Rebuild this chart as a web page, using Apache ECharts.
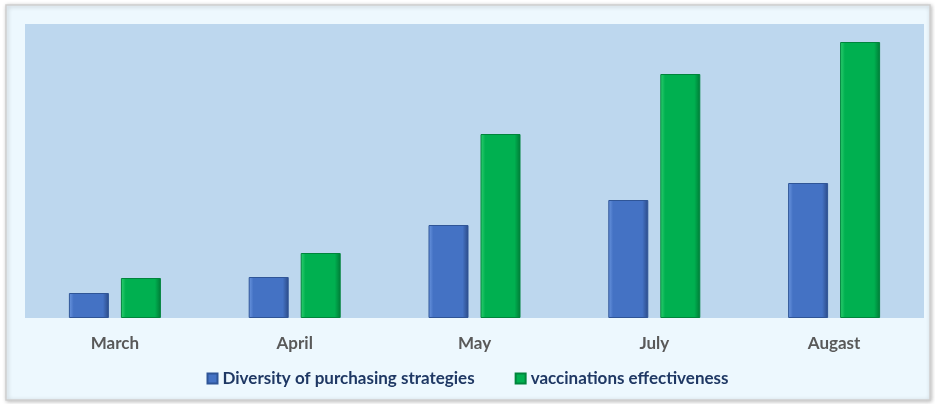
<!DOCTYPE html>
<html><head><meta charset="utf-8">
<script src="https://cdn.jsdelivr.net/npm/echarts@6/dist/echarts.min.js"></script>
<style>html,body{margin:0;padding:0;background:#fff}#c{width:935px;height:404px}</style>
</head><body><div id="c"></div>
<script>
const categories = ['March', 'April', 'May', 'July', 'Augast'];
const diversity = [25, 41, 93, 118, 135];
const effectiveness = [40, 65, 184, 244, 276];
const seriesNames = ['Diversity of purchasing strategies', 'vaccinations effectiveness'];

function grad(l, m, r) {
  return new echarts.graphic.LinearGradient(0, 0, 1, 0, [
    {offset: 0, color: l}, {offset: 0.12, color: m}, {offset: 0.85, color: m}, {offset: 1, color: r}
  ]);
}
const chart = echarts.init(document.getElementById('c'));
chart.setOption({
  animation: false,
  graphic: [
    {type: 'rect', z: -10, shape: {x: 6, y: 5, width: 924, height: 395},
     style: {fill: '#EDF8FE', stroke: '#CFCFCF', lineWidth: 1.5, shadowBlur: 4, shadowColor: 'rgba(0,0,0,0.25)', shadowOffsetX: 1, shadowOffsetY: 1}}
  ],
  grid: {left: 25, right: 11, top: 24, bottom: 86, show: true, backgroundColor: '#BDD7EE', borderWidth: 0},
  legend: {
    bottom: 12, left: 'center', itemWidth: 10, itemHeight: 10, itemGap: 40,
    icon: 'rect',
    textStyle: {fontFamily: 'Lato', fontWeight: 'bold', fontSize: 17, color: '#1F3864'},
    data: seriesNames
  },
  xAxis: {
    type: 'category', data: categories,
    axisLine: {show: false}, axisTick: {show: false},
    axisLabel: {fontFamily: 'Lato', fontWeight: 'bold', fontSize: 17, color: '#595959', margin: 17}
  },
  yAxis: {type: 'value', min: 0, max: 294, show: false, splitLine: {show: false}},
  series: [
    {name: seriesNames[0], type: 'bar', data: diversity, barWidth: 40, barGap: '30%',
     itemStyle: {color: grad('#6C97E0', '#4472C4', '#2B4A86'), borderColor: '#2F5597', borderWidth: 1}},
    {name: seriesNames[1], type: 'bar', data: effectiveness, barWidth: 40,
     itemStyle: {color: grad('#2FD070', '#00B050', '#007A36'), borderColor: '#00853C', borderWidth: 1}}
  ]
});
</script></body></html>
